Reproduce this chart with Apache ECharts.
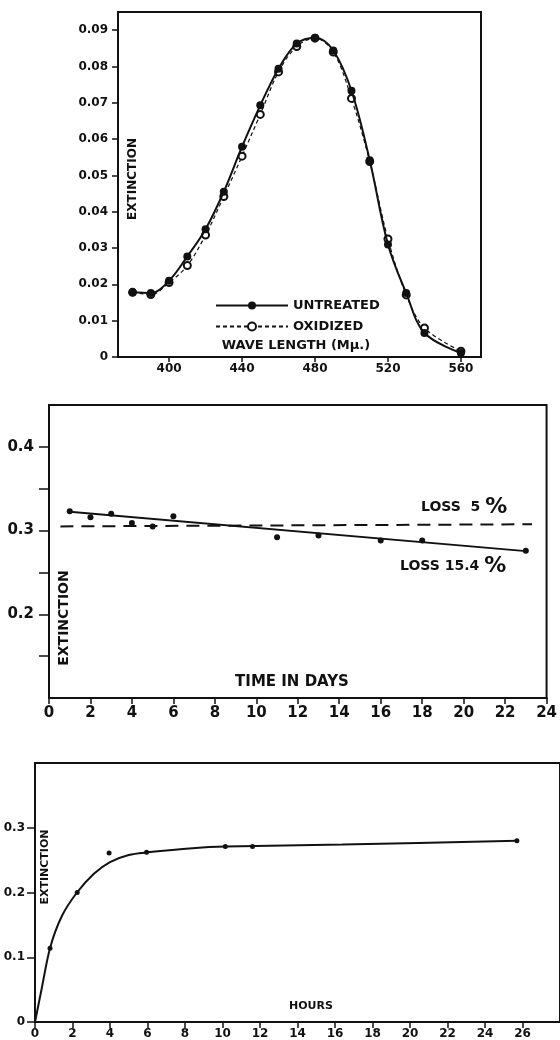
<!DOCTYPE html>
<html>
<head>
<meta charset="utf-8">
<script src="https://cdn.jsdelivr.net/npm/echarts@6/dist/echarts.min.js"></script>
<style>
  html, body { margin: 0; padding: 0; background: #fff; }
  #chart { width: 560px; height: 1040px; }
</style>
</head>
<body>
<div id="chart"></div>
<script>
// ---------- Panel 1: absorption spectrum ----------
const waveLengths = [380, 390, 400, 410, 420, 430, 440, 450, 460, 470, 480, 490, 500, 510, 520, 530, 540, 560];
const untreated  = [0.0178, 0.0176, 0.0210, 0.0277, 0.0352, 0.0455, 0.0579, 0.0693, 0.0794, 0.0863, 0.0879, 0.0844, 0.0733, 0.0542, 0.0310, 0.0176, 0.0066, 0.0011];
const oxidized   = [0.0178, 0.0172, 0.0205, 0.0252, 0.0336, 0.0442, 0.0553, 0.0668, 0.0785, 0.0855, 0.0878, 0.0840, 0.0712, 0.0538, 0.0325, 0.0171, 0.0080, 0.0016];
const waveTicks  = [400, 440, 480, 520, 560];
const spectrumTicks = [0, 0.01, 0.02, 0.03, 0.04, 0.05, 0.06, 0.07, 0.08, 0.09];

// ---------- Panel 2: storage in days ----------
const storageDays = [1, 2, 3, 4, 5, 6, 11, 13, 16, 18, 23];
const storageExt  = [0.323, 0.316, 0.320, 0.309, 0.305, 0.317, 0.292, 0.294, 0.288, 0.288, 0.276];
const trendDays   = [1, 23];
const trendExt    = [0.3225, 0.2755];
const loss5Days   = [0.55, 23.3];
const loss5Ext    = [0.305, 0.3075];
const dayTicks    = [0, 2, 4, 6, 8, 10, 12, 14, 16, 18, 20, 22, 24];
const storageTicks = [0.15, 0.2, 0.25, 0.3, 0.35, 0.4];
const storageLabels = [0.2, 0.3, 0.4];

// ---------- Panel 3: development in hours ----------
const hours      = [0.8, 2.25, 3.95, 5.95, 10.15, 11.6, 25.7];
const hoursExt   = [0.114, 0.200, 0.261, 0.262, 0.271, 0.271, 0.280];
const curveHours = [0, 0.34, 0.8, 1.44, 2.24, 3.14, 4.0, 5.0, 6.0, 8.4, 10.2, 16.4, 25.7];
const curveExt   = [0, 0.049, 0.114, 0.164, 0.200, 0.229, 0.247, 0.258, 0.262, 0.2685, 0.271, 0.274, 0.280];
const hourTicks  = [0, 2, 4, 6, 8, 10, 12, 14, 16, 18, 20, 22, 24, 26];
const hourExtTicks = [0, 0.1, 0.2, 0.3];

const zip = (a, b) => a.map((v, i) => [v, b[i]]);
const FONT = 'DejaVu Sans';
const BLACK = '#111';

function axisBase() {
  return {
    axisLine: { show: true, onZero: false, lineStyle: { color: BLACK, width: 2 } },
    splitLine: { show: false }
  };
}
function ticks(len, values) {
  return { show: true, inside: false, length: len, customValues: values, lineStyle: { color: BLACK, width: 1.5 } };
}
function labels(size, margin, values, formatter) {
  const o = { color: BLACK, fontFamily: FONT, fontWeight: 'bold', fontSize: size, margin: margin, customValues: values };
  if (formatter) o.formatter = formatter;
  return o;
}

const chart = echarts.init(document.getElementById('chart'), null, { renderer: 'canvas' });

const gridStyle = { show: true, borderColor: BLACK, borderWidth: 2, backgroundColor: 'transparent' };

const option = {
  backgroundColor: '#fff',
  animation: false,
  grid: [
    Object.assign({ left: 118, top: 12, width: 363, height: 345, containLabel: false }, gridStyle),
    Object.assign({ left: 49, top: 405, width: 500, height: 293, containLabel: false }, gridStyle),
    Object.assign({ left: 35, top: 763, width: 550, height: 259, containLabel: false }, gridStyle)
  ],
  xAxis: [
    Object.assign(axisBase(), {
      type: 'value', gridIndex: 0, min: 372, max: 571,
      axisTick: ticks(5, waveTicks),
      axisLabel: labels(12, 6, waveTicks)
    }),
    Object.assign(axisBase(), {
      type: 'value', gridIndex: 1, min: 0, max: 24,
      axisTick: ticks(6, dayTicks),
      axisLabel: labels(15, 8, dayTicks)
    }),
    Object.assign(axisBase(), {
      type: 'value', gridIndex: 2, min: 0, max: 28,
      axisTick: ticks(6, hourTicks),
      axisLabel: labels(12, 6, hourTicks)
    })
  ],
  yAxis: [
    Object.assign(axisBase(), {
      type: 'value', gridIndex: 0, min: 0, max: 0.095,
      axisTick: ticks(6, spectrumTicks),
      axisLabel: labels(12, 10, spectrumTicks, v => (Math.abs(v) < 1e-9 ? '0' : v.toFixed(2)))
    }),
    Object.assign(axisBase(), {
      type: 'value', gridIndex: 1, min: 0.1, max: 0.45,
      axisTick: ticks(10, storageTicks),
      axisLabel: labels(15, 15, storageLabels, v => v.toFixed(1))
    }),
    Object.assign(axisBase(), {
      type: 'value', gridIndex: 2, min: 0, max: 0.4,
      axisTick: ticks(8, hourExtTicks),
      axisLabel: labels(12, 10, hourExtTicks, v => (Math.abs(v) < 1e-9 ? '0' : v.toFixed(1)))
    })
  ],
  legend: {
    data: ['UNTREATED', 'OXIDIZED'],
    orient: 'vertical',
    left: 210,
    top: 294,
    itemWidth: 72,
    itemHeight: 10,
    itemGap: 8,
    textStyle: { color: BLACK, fontFamily: FONT, fontWeight: 'bold', fontSize: 13 },
    selectedMode: false
  },
  series: [
    {
      name: 'OXIDIZED', type: 'line', xAxisIndex: 0, yAxisIndex: 0,
      data: zip(waveLengths, oxidized), smooth: 0.35,
      symbol: 'emptyCircle', symbolSize: 7,
      itemStyle: { color: BLACK, borderWidth: 1.5 },
      lineStyle: { color: BLACK, width: 1.2, type: [4, 3] },
      z: 3
    },
    {
      name: 'UNTREATED', type: 'line', xAxisIndex: 0, yAxisIndex: 0,
      data: zip(waveLengths, untreated), smooth: 0.35,
      symbol: 'circle', symbolSize: 8,
      itemStyle: { color: BLACK },
      lineStyle: { color: BLACK, width: 2 },
      z: 5
    },
    {
      name: 'trend', type: 'line', xAxisIndex: 1, yAxisIndex: 1,
      data: zip(trendDays, trendExt), symbol: 'none',
      lineStyle: { color: BLACK, width: 1.8 }
    },
    {
      name: 'loss5', type: 'line', xAxisIndex: 1, yAxisIndex: 1,
      data: zip(loss5Days, loss5Ext), symbol: 'none',
      lineStyle: { color: BLACK, width: 2, type: [13, 8] }
    },
    {
      name: 'storage', type: 'scatter', xAxisIndex: 1, yAxisIndex: 1,
      data: zip(storageDays, storageExt), symbol: 'circle', symbolSize: 6,
      itemStyle: { color: BLACK, opacity: 1 }, z: 4
    },
    {
      name: 'curve', type: 'line', xAxisIndex: 2, yAxisIndex: 2,
      data: zip(curveHours, curveExt), symbol: 'none', smooth: 0.3,
      lineStyle: { color: BLACK, width: 2 }
    },
    {
      name: 'hoursPts', type: 'scatter', xAxisIndex: 2, yAxisIndex: 2,
      data: zip(hours, hoursExt), symbol: 'circle', symbolSize: 5,
      itemStyle: { color: BLACK, opacity: 1 }, z: 4
    }
  ],
  graphic: [
    { type: 'text', x: 133, y: 179, rotation: Math.PI / 2,
      style: { text: 'EXTINCTION', fill: BLACK, font: 'bold 12px "DejaVu Sans"', align: 'center', verticalAlign: 'middle' } },
    { type: 'text', x: 296, y: 346,
      style: { text: 'WAVE LENGTH (Mμ.)', fill: BLACK, font: 'bold 13px "DejaVu Sans"', align: 'center', verticalAlign: 'middle' } },
    { type: 'text', x: 64, y: 618, rotation: Math.PI / 2,
      style: { text: 'EXTINCTION', fill: BLACK, font: 'bold 14px "DejaVu Sans"', align: 'center', verticalAlign: 'middle' } },
    { type: 'text', x: 292, y: 682,
      style: { text: 'TIME IN DAYS', fill: BLACK, font: 'bold 15px "DejaVu Sans"', align: 'center', verticalAlign: 'middle' } },
    { type: 'text', x: 421, y: 507,
      style: { text: '{a|LOSS  5 }{b|%}', fill: BLACK, align: 'left', verticalAlign: 'middle',
        rich: { a: { fontFamily: FONT, fontWeight: 'bold', fontSize: 14, fill: BLACK },
                b: { fontFamily: FONT, fontWeight: 'bold', fontSize: 22, fill: BLACK } } } },
    { type: 'text', x: 400, y: 566,
      style: { text: '{a|LOSS 15.4 }{b|%}', fill: BLACK, align: 'left', verticalAlign: 'middle',
        rich: { a: { fontFamily: FONT, fontWeight: 'bold', fontSize: 14, fill: BLACK },
                b: { fontFamily: FONT, fontWeight: 'bold', fontSize: 22, fill: BLACK } } } },
    { type: 'text', x: 45, y: 867, rotation: Math.PI / 2,
      style: { text: 'EXTINCTION', fill: BLACK, font: 'bold 11px "DejaVu Sans"', align: 'center', verticalAlign: 'middle' } },
    { type: 'text', x: 311, y: 1006,
      style: { text: 'HOURS', fill: BLACK, font: 'bold 11px "DejaVu Sans"', align: 'center', verticalAlign: 'middle' } }
  ]
};

chart.setOption(option);
</script>
</body>
</html>
